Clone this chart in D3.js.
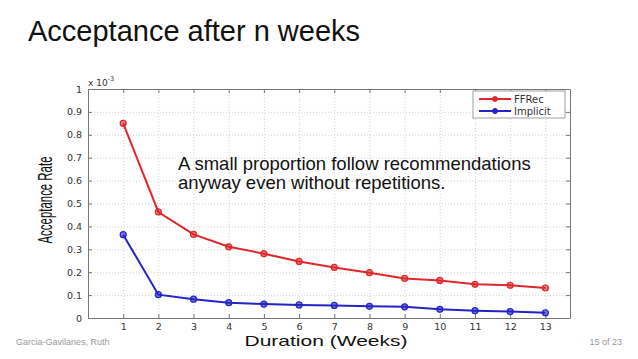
<!DOCTYPE html>
<html>
<head>
<meta charset="utf-8">
<script src="https://cdn.jsdelivr.net/npm/d3@7"></script>
<style>
  body { margin: 0; background: #fff; }
  svg { display: block; }
</style>
</head>
<body>
<div id="chart"></div>
<script>
const weeks = [1, 2, 3, 4, 5, 6, 7, 8, 9, 10, 11, 12, 13]
const ffrecRate = [0.850, 0.463, 0.365, 0.311, 0.281, 0.247, 0.221, 0.198, 0.173, 0.164, 0.147, 0.143, 0.131]
const implicitRate = [0.364, 0.102, 0.082, 0.067, 0.061, 0.057, 0.055, 0.051, 0.049, 0.038, 0.032, 0.028, 0.023]
const yTickValues = [0, 0.1, 0.2, 0.3, 0.4, 0.5, 0.6, 0.7, 0.8, 0.9, 1]
const yTickLabels = ['0', '0.1', '0.2', '0.3', '0.4', '0.5', '0.6', '0.7', '0.8', '0.9', '1']
const seriesNames = ['FFRec', 'Implicit']
const seriesColors = ['#e0272c', '#2323c8']

const width = 638
const height = 359
const plot = { left: 88, right: 570, top: 89, bottom: 318 }

const svg = d3.select('#chart')
  .append('svg')
  .attr('width', width)
  .attr('height', height)
  .attr('viewBox', [0, 0, width, height].join(' '))

// slide title
svg.append('text')
  .attr('x', 28)
  .attr('y', 41)
  .attr('font-family', 'Liberation Sans, Arial, sans-serif')
  .attr('font-size', 29)
  .attr('fill', '#111')
  .text('Acceptance after n weeks')

const x = d3.scaleLinear().domain([0, 13.7]).range([plot.left, plot.right])
const y = d3.scaleLinear().domain([0, 1]).range([plot.bottom, plot.top])

// dotted grid
const grid = svg.append('g').attr('class', 'grid')
grid.append('g')
  .attr('transform', `translate(0,${plot.bottom})`)
  .call(d3.axisBottom(x).tickValues(weeks).tickSize(-(plot.bottom - plot.top)).tickFormat(''))
grid.append('g')
  .attr('transform', `translate(${plot.left},0)`)
  .call(d3.axisLeft(y).tickValues(yTickValues.slice(1, -1)).tickSize(-(plot.right - plot.left)).tickFormat(''))
grid.selectAll('.domain').remove()
grid.selectAll('line')
  .attr('stroke', '#c8c8c8')
  .attr('stroke-width', 0.8)
  .attr('stroke-dasharray', '1,2')

// frame + inward ticks
const axes = svg.append('g').attr('class', 'axes')
const tickFont = g => g.selectAll('text')
  .attr('font-family', 'DejaVu Sans, sans-serif')
  .attr('font-size', 9.5)
  .attr('fill', '#333')

axes.append('g')
  .attr('transform', `translate(0,${plot.bottom})`)
  .call(d3.axisBottom(x).tickValues(weeks).tickSize(-4).tickSizeOuter(0).tickPadding(5).tickFormat(d3.format('d')))
  .call(tickFont)
axes.append('g')
  .attr('transform', `translate(0,${plot.top})`)
  .call(d3.axisTop(x).tickValues(weeks).tickSize(-4).tickSizeOuter(0).tickFormat(''))
axes.append('g')
  .attr('transform', `translate(${plot.left},0)`)
  .call(d3.axisLeft(y).tickValues(yTickValues).tickSize(-4).tickSizeOuter(0).tickPadding(6)
    .tickFormat((d, i) => yTickLabels[i]))
  .call(tickFont)
axes.append('g')
  .attr('transform', `translate(${plot.right},0)`)
  .call(d3.axisRight(y).tickValues(yTickValues).tickSize(-4).tickSizeOuter(0).tickFormat(''))
axes.selectAll('.domain').attr('stroke', '#777')
axes.selectAll('line').attr('stroke', '#777')

// exponent label
const expo = svg.append('text')
  .attr('x', plot.left)
  .attr('y', plot.top - 3)
  .attr('font-family', 'DejaVu Sans, sans-serif')
  .attr('font-size', 9)
  .attr('fill', '#333')
expo.append('tspan').text('x 10')
expo.append('tspan').attr('dy', -5).attr('font-size', 6.5).text('-3')

// series
const series = [ffrecRate, implicitRate].map((values, i) => ({
  name: seriesNames[i],
  color: seriesColors[i],
  points: weeks.map((w, j) => ({ week: w, value: values[j] }))
}))

const line = d3.line().x(d => x(d.week)).y(d => y(d.value))

const seriesG = svg.append('g').attr('class', 'series')
  .selectAll('g')
  .data(series)
  .join('g')

seriesG.append('path')
  .attr('d', d => line(d.points))
  .attr('fill', 'none')
  .attr('stroke', d => d.color)
  .attr('stroke-width', 2)

seriesG.selectAll('circle')
  .data(d => d.points.map(p => ({ ...p, color: d.color })))
  .join('circle')
  .attr('cx', d => x(d.week))
  .attr('cy', d => y(d.value))
  .attr('r', 3)
  .attr('fill', d => d.color)
  .attr('fill-opacity', 0.6)
  .attr('stroke', d => d.color)
  .attr('stroke-width', 1.2)

// legend
const legend = svg.append('g').attr('transform', 'translate(473,91)')
legend.append('rect')
  .attr('width', 92)
  .attr('height', 27)
  .attr('fill', '#fff')
  .attr('stroke', '#888')
  .attr('stroke-width', 0.8)
const legendItem = legend.selectAll('g')
  .data(series)
  .join('g')
  .attr('transform', (d, i) => `translate(0,${8 + i * 12})`)
legendItem.append('line')
  .attr('x1', 6).attr('x2', 38)
  .attr('stroke', d => d.color)
  .attr('stroke-width', 2)
legendItem.append('circle')
  .attr('cx', 22)
  .attr('r', 2.5)
  .attr('fill', d => d.color)
  .attr('stroke', d => d.color)
legendItem.append('text')
  .attr('x', 41)
  .attr('dy', '0.35em')
  .attr('font-family', 'DejaVu Sans, sans-serif')
  .attr('font-size', 10)
  .attr('fill', '#333')
  .text(d => d.name)

// axis titles
svg.append('text')
  .attr('transform', `translate(52,200) rotate(-90)`)
  .attr('text-anchor', 'middle')
  .attr('font-family', 'Liberation Sans, Arial, sans-serif')
  .attr('font-size', 21)
  .attr('textLength', 87)
  .attr('lengthAdjust', 'spacingAndGlyphs')
  .attr('fill', '#111')
  .text('Acceptance Rate')

svg.append('text')
  .attr('x', 326)
  .attr('y', 346)
  .attr('text-anchor', 'middle')
  .attr('font-family', 'Liberation Sans, Arial, sans-serif')
  .attr('font-size', 15)
  .attr('textLength', 163)
  .attr('lengthAdjust', 'spacingAndGlyphs')
  .attr('fill', '#111')
  .text('Duration (Weeks)')

// annotation
const note = svg.append('text')
  .attr('font-family', 'Liberation Sans, Arial, sans-serif')
  .attr('font-size', 18.5)
  .attr('fill', '#111')
note.append('tspan').attr('x', 178).attr('y', 170).text('A small proportion follow recommendations')
note.append('tspan').attr('x', 178).attr('y', 189).text('anyway even without repetitions.')

// footer
svg.append('text')
  .attr('x', 16)
  .attr('y', 345)
  .attr('font-family', 'Liberation Sans, Arial, sans-serif')
  .attr('font-size', 9)
  .attr('fill', '#999')
  .text('Garcia-Gavilanes, Ruth')
svg.append('text')
  .attr('x', 622)
  .attr('y', 345)
  .attr('text-anchor', 'end')
  .attr('font-family', 'Liberation Sans, Arial, sans-serif')
  .attr('font-size', 9)
  .attr('fill', '#999')
  .text('15 of 23')
</script>
</body>
</html>
